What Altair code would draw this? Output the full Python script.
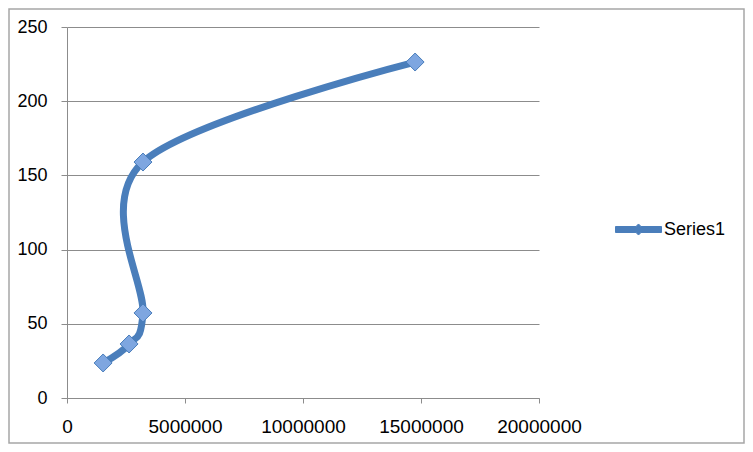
import altair as alt
import pandas as pd

x_vals = [1530000, 2630000, 3220000, 3220000, 14750000]
y_vals = [23.6, 36.4, 57.3, 159, 226.4]
series_name = "Series1"
x_ticks = [0, 5000000, 10000000, 15000000, 20000000]
y_ticks = [0, 50, 100, 150, 200, 250]

df = pd.DataFrame({"x": x_vals, "y": y_vals, "idx": list(range(len(x_vals))),
                   "series": [series_name] * len(x_vals)})

LINE = "#4a7ebb"
FILL = "#7ea6e0"
GRID = "#8c8c8c"
FONT = "Liberation Sans"

W, H = 472, 371
PL, PT, PR, PB = 59, 19, 206, 46

legend_path = ("M-1,-0.13L-0.11,-0.13L0,-0.24L0.11,-0.13L1,-0.13"
               "L1,0.13L0.11,0.13L0,0.24L-0.11,0.13L-1,0.13Z")

xs = alt.X("x:Q", scale=alt.Scale(domain=[0, 20000000], nice=False),
           axis=alt.Axis(values=x_ticks, format="d", grid=False, title=None,
                         tickSize=5, labelPadding=14, labelOverlap=False,
                         labelBound=False, labelFlush=False, labelFontSize=19))
ys = alt.Y("y:Q", scale=alt.Scale(domain=[0, 250], nice=False),
           axis=alt.Axis(values=y_ticks, grid=True, title=None, tickSize=6,
                         labelPadding=14))

base = alt.Chart(df)

line = base.mark_line(interpolate="cardinal", tension=0, strokeWidth=7,
                      strokeCap="round").encode(
    x=xs, y=ys, order=alt.Order("idx:Q"),
    color=alt.Color("series:N", scale=alt.Scale(range=[LINE]),
                    legend=alt.Legend(title=None, orient="none", legendX=548, legendY=179,
                                      symbolType=legend_path, symbolSize=2116,
                                      symbolFillColor=LINE, symbolStrokeColor=LINE,
                                      symbolStrokeWidth=1, labelOffset=2,
                                      labelFontSize=18, labelFont=FONT,
                                      labelColor="#000000")),
)

points = base.mark_point(shape="diamond", size=324, filled=True, fill=FILL,
                         stroke=LINE, strokeWidth=1, opacity=1).encode(
    x="x:Q", y="y:Q"
)

border = alt.Chart(alt.Data(values=[{"a": 1}])).mark_rect(
    fill=None, stroke="#a6a6a6", strokeWidth=1.5
).encode(
    x=alt.value(-PL + 1), x2=alt.value(W + PR - 1),
    y=alt.value(-PT + 1), y2=alt.value(H + PB - 1),
)

chart = alt.layer(border, line, points).properties(
    width=W, height=H,
    autosize=alt.AutoSizeParams(type="none"),
    padding={"left": PL, "top": PT, "right": PR, "bottom": PB},
).configure_view(stroke=None).configure_axis(
    domainColor=GRID, tickColor=GRID, gridColor=GRID, gridWidth=1,
    labelFont=FONT, labelFontSize=18, labelColor="#000000",
)

chart.save("out.html", embed_options={"renderer": "svg", "actions": False})
